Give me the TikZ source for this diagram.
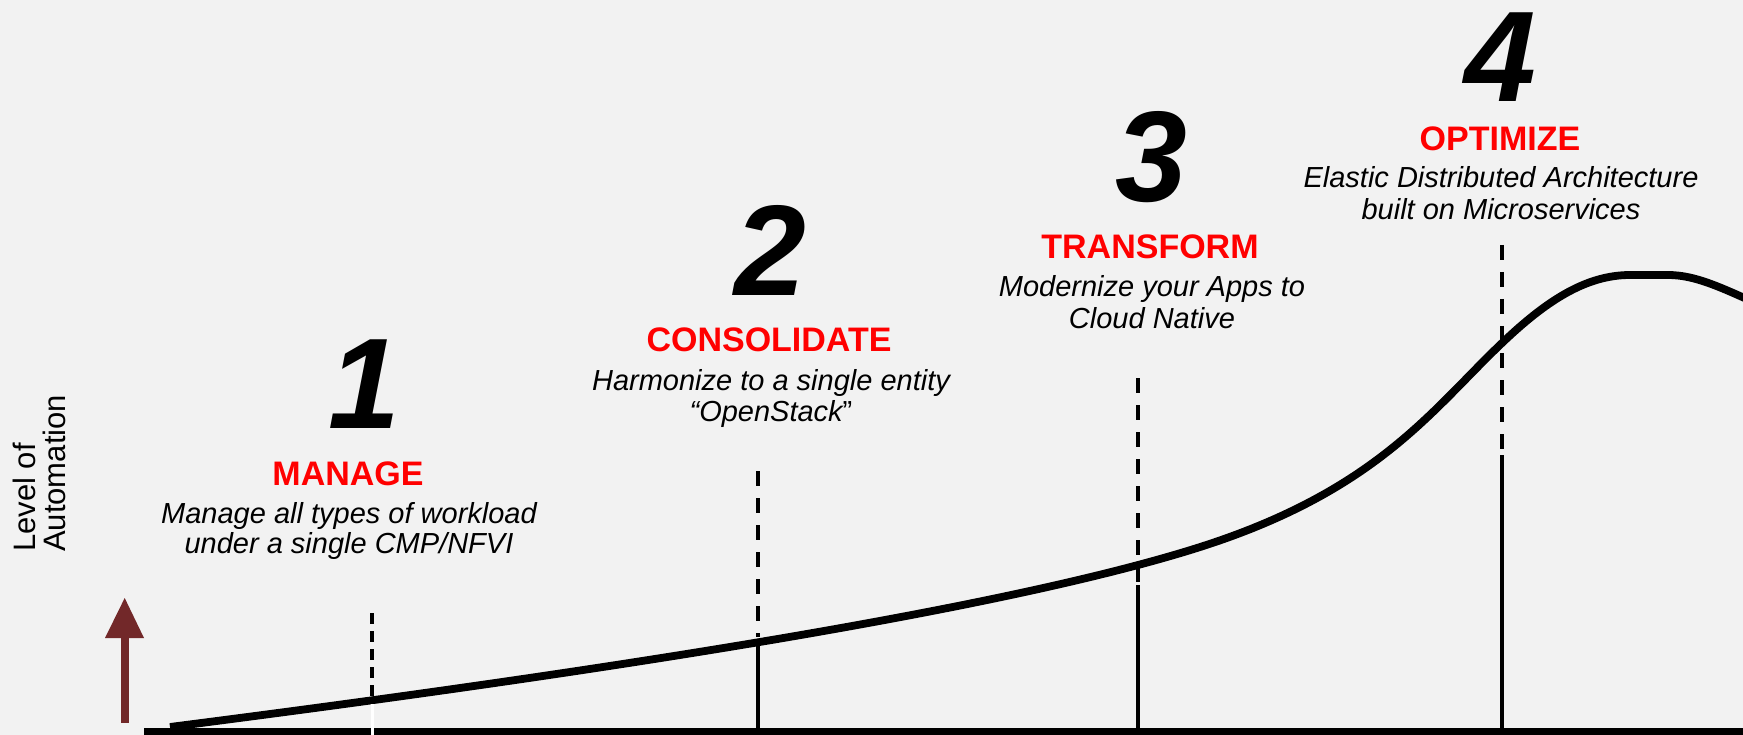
\documentclass[tikz,border=0pt]{standalone}
\usepackage{fontspec}
\setmainfont{Liberation Sans}
\definecolor{bg}{HTML}{F2F2F2}
\definecolor{arrowred}{HTML}{722829}
\definecolor{headred}{HTML}{FF0000}
\begin{document}
\begin{tikzpicture}[x=1pt,y=-1pt,
  digit/.style={anchor=base, inner sep=0pt, font=\fontsize{129}{129}\selectfont\bfseries\itshape},
  head/.style={anchor=base, inner sep=0pt, text=headred, font=\fontsize{34}{34}\selectfont\bfseries},
  desc/.style={anchor=base, inner sep=0pt, font=\fontsize{29}{29}\selectfont\itshape},
  axislabel/.style={anchor=base west, inner sep=0pt, rotate=90, font=\fontsize{31}{31}\selectfont},
  dashline/.style={line width=4.5pt, dash pattern=on 15pt off 12pt},
  shortdash/.style={line width=4.5pt, dash pattern=on 11pt off 7pt},
  stem/.style={line width=3.5pt},
  growth/.style={line width=7.8pt, line join=round}
]
\useasboundingbox (0,0) rectangle (1743,735);
\fill[bg] (0,0) rectangle (1743,735);

% axis label
\node[axislabel] (lvl) at (35,552) {Level of};
\node[axislabel] (aut) at (65.7,552) {Automation};

% arrow
\fill[arrowred] (120.7,723) rectangle (128.7,636);
\fill[arrowred] (105,638) -- (144,638) -- (124.7,598) -- cycle;

% coordinates for stage lines
\coordinate (d1t) at (372,613); \coordinate (d1b) at (372,700);
\coordinate (w1t) at (372,704); \coordinate (w1b) at (372,735);
\coordinate (d2t) at (758,471); \coordinate (d2b) at (758,637);
\coordinate (s2t) at (758,642); \coordinate (s2b) at (758,731);
\coordinate (d3t) at (1138,378); \coordinate (d3b) at (1138,585);
\coordinate (s3t) at (1138,585); \coordinate (s3b) at (1138,731);
\coordinate (d4t) at (1502,245); \coordinate (d4b) at (1502,455);
\coordinate (s4t) at (1502,455); \coordinate (s4b) at (1502,731);

\draw[shortdash] (d1t) -- (d1b);
\draw[dashline] (d2t) -- (d2b);
\draw[stem] (s2t) -- (s2b);
\draw[dashline] (d3t) -- (d3b);
\draw[stem] (s3t) -- (s3b);
\draw[dashline] (d4t) -- (d4b);
\draw[stem] (s4t) -- (s4b);

% growth curve
\coordinate (g0) at (170,727);
\coordinate (g1) at (1197,548);
\coordinate (g2) at (1502,343);
\coordinate (g3) at (1630,275);
\coordinate (g4) at (1668,275);
\coordinate (g5) at (1760,305);
\draw[growth] (g0) .. controls (600,672) and (1000,610) .. (g1)
  .. controls (1377,491.3) and (1432,409.5) .. (g2)
  .. controls (1545,302) and (1585,275) .. (g3)
  -- (g4)
  .. controls (1695,275) and (1720,287) .. (g5);

% baseline
\fill[black] (144,728) rectangle (1743,735);
\draw[white, line width=3pt] (w1t) -- (w1b);

% stage 1
\node[digit] (n1) at (364,428) {1};
\node[head] (h1) at (348,485) {MANAGE};
\node[desc] (a1) at (349,523) {Manage all types of workload};
\node[desc] (b1) at (349,553) {under a single CMP/NFVI};

% stage 2
\node[digit] (n2) at (770,296) {2};
\node[head] (h2) at (769,352) {CONSOLIDATE};
\node[desc] (a2) at (771,390) {Harmonize to a single entity};
\node[desc] (b2) at (771,421) {“OpenStack\upshape”};

% stage 3
\node[digit] (n3) at (1151,202) {3};
\node[head] (h3) at (1150,259) {TRANSFORM};
\node[desc] (a3) at (1152,297) {Modernize your Apps to};
\node[desc] (b3) at (1152,329) {Cloud Native};

% stage 4
\node[digit] (n4) at (1500,102) {4};
\node[head] (h4) at (1500,151) {OPTIMIZE};
\node[desc] (a4) at (1501,188) {Elastic Distributed Architecture};
\node[desc] (b4) at (1501,220) {built on Microservices};
\end{tikzpicture}
\end{document}
